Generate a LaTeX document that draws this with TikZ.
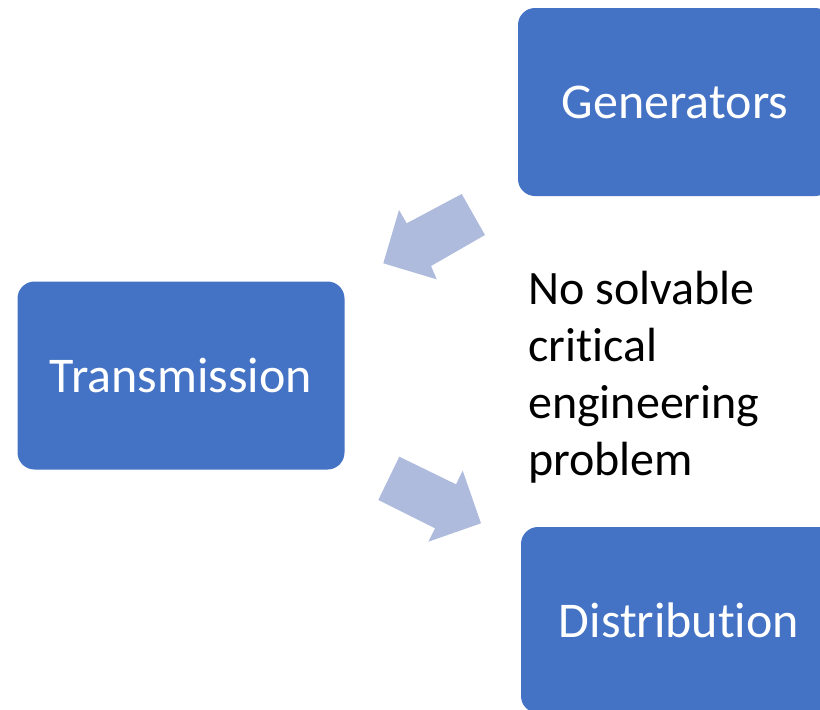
\documentclass[tikz,border=0pt]{standalone}
\usepackage{fontspec}
\setmainfont[Ligatures={NoCommon}]{Carlito}
\usepackage{xcolor}
\usepackage{tikz}
\usetikzlibrary{positioning}
\definecolor{boxblue}{HTML}{4472C4}
\definecolor{flowblue}{HTML}{AFBBDD}

\begin{document}
\begin{tikzpicture}[
  x=1pt,y=-1pt,
  stage/.style={rectangle,rounded corners=17pt,fill=boxblue,text=white,align=center,
    minimum width=327pt,minimum height=188pt,inner sep=0pt,font=\fontsize{50}{57}\selectfont},
  flow/.style={fill=flowblue},
  note/.style={align=left,anchor=north west,inner sep=0pt,font=\fontsize{48}{57}\selectfont}]
\useasboundingbox (0,0) rectangle (820,710);
\clip (0,0) rectangle (820,710);
\node[stage] (trans) at (181,375.5) {Transmission};
\node[stage,minimum width=314pt] (gen) at (675,102) {Generators};
\node[stage,minimum width=316pt,minimum height=186pt] (dist) at (679,620) {Distribution};
\node[note] (prob) at (528,271) {No solvable\\critical\\engineering\\problem};
% block arrows
\fill[flow] (461.7,194) -- (406.7,223.3) -- (399,210) -- (383.3,263.3)
  -- (436.7,279.3) -- (431,266) -- (485,235) -- cycle;
\fill[flow] (399.3,456.7) -- (456,484.3) -- (462.7,470.7) -- (481,523.3)
  -- (428.3,541.7) -- (435,528.3) -- (378.3,500) -- cycle;
\end{tikzpicture}
\end{document}
